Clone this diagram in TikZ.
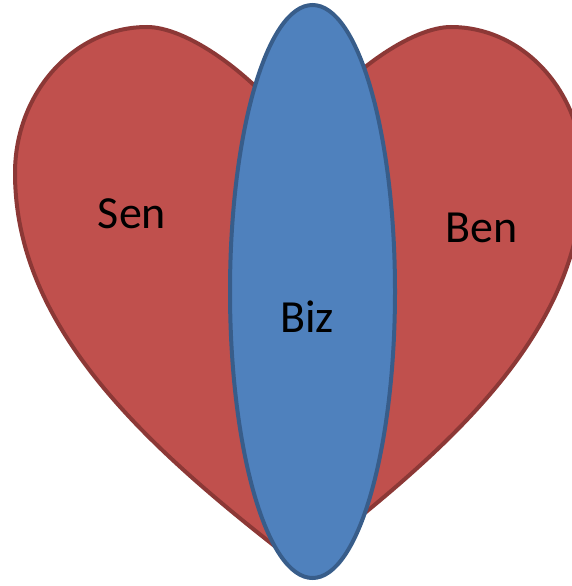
\documentclass[tikz,border=0pt]{standalone}
\usepackage{fontspec}
\setmainfont{Carlito}
\definecolor{heartfill}{HTML}{C0504D}
\definecolor{heartline}{HTML}{8C3836}
\definecolor{ovalfill}{HTML}{4F81BD}
\definecolor{ovalline}{HTML}{385D8A}
\begin{document}
\begin{tikzpicture}[x=1pt,y=-1pt,
  lbl/.style={font=\fontsize{46}{50}\selectfont, text=black, inner sep=0pt, anchor=base},
  heartstyle/.style={draw=heartline, fill=heartfill, line width=4pt},
  ovalstyle/.style={draw=ovalline, fill=ovalfill, line width=4pt}]
\useasboundingbox (0,0) rectangle (572,586);
\clip (0,0) rectangle (572,586);
\path[heartstyle] (299,135) .. controls (250,70) and (185,27) .. (147,27)
  .. controls (74,27) and (15,93) .. (15,173)
  .. controls (15,330) and (150,450) .. (299,565)
  .. controls (455,445) and (583,330) .. (583,173)
  .. controls (583,93) and (524,27) .. (451,27)
  .. controls (413,27) and (348,70) .. (299,135) -- cycle;
\path[ovalstyle] (312.5,291.5) ellipse [x radius=82.5, y radius=286.5];
\node[lbl] (sen) at (132,228) {Sen};
\node[lbl] (ben) at (482,242) {Ben};
\node[lbl] (biz) at (307,332) {Biz};
\end{tikzpicture}
\end{document}
